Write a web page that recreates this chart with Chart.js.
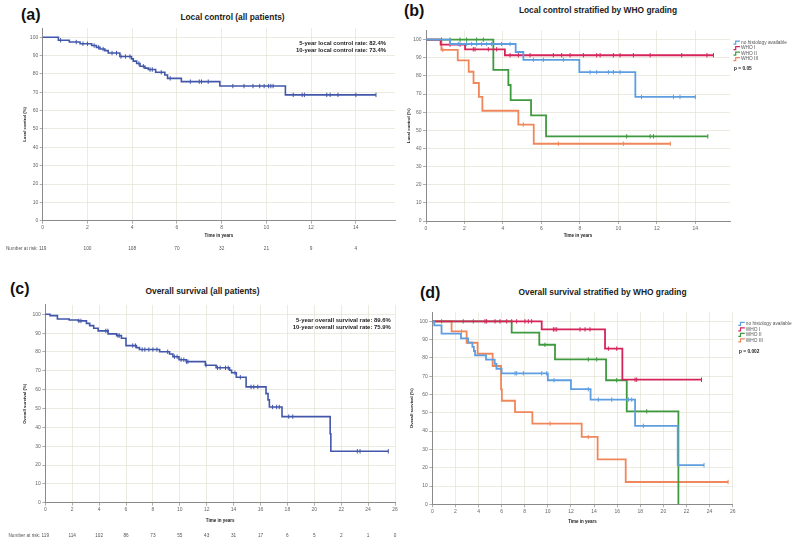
<!DOCTYPE html>
<html><head><meta charset="utf-8">
<script src="https://cdn.jsdelivr.net/npm/chart.js@4.4.1/dist/chart.umd.min.js"></script>
<style>
body{margin:0;background:#fff;width:798px;height:544px;position:relative;overflow:hidden;font-family:"Liberation Sans",Arial,sans-serif;}
canvas{position:absolute;}
.lbl{position:absolute;font-weight:bold;font-size:16px;color:#111;line-height:1;white-space:nowrap;}
.ttl{position:absolute;font-weight:bold;font-size:8.4px;color:#222;transform:translate(-50%,-50%);white-space:nowrap;line-height:1;}
</style></head><body>
<div class="lbl" style="left:21px;top:7px">(a)</div>
<div class="lbl" style="left:404px;top:3px">(b)</div>
<div class="lbl" style="left:10px;top:281px">(c)</div>
<div class="lbl" style="left:420px;top:285px">(d)</div>
<div class="ttl" style="left:232.5px;top:16.7px">Local control (all patients)</div>
<div class="ttl" style="left:598px;top:10px">Local control stratified by WHO grading</div>
<div class="ttl" style="left:202.5px;top:291.3px">Overall survival (all patients)</div>
<div class="ttl" style="left:602.5px;top:292px">Overall survival stratified by WHO grading</div>
<canvas id="ca" width="400" height="272" style="left:0;top:0"></canvas>
<canvas id="cb" width="398" height="272" style="left:400px;top:0"></canvas>
<canvas id="cc" width="400" height="272" style="left:0;top:272px"></canvas>
<canvas id="cd" width="398" height="272" style="left:400px;top:272px"></canvas>
<script>
const FONT = '"Liberation Sans", Arial, sans-serif';

// ---------- Panel (a): local control, all patients ----------
const aTimes = [0, 0.7, 1.19, 1.67, 2.19, 2.4, 2.56, 2.78, 2.93, 3.45, 3.97, 4.05, 4.2, 4.35, 4.57, 4.72, 5.05, 5.46, 5.58, 6.2, 7.92, 10.85, 14.9];
const aSurv  = [100, 98.4, 97.4, 96.5, 95.5, 94.5, 93.6, 92.7, 91.4, 89.5, 88.2, 87.0, 85.7, 84.2, 83.2, 82.4, 80.9, 79.4, 77.6, 75.8, 73.4, 68.6, 68.6];
const aCensor = [0.8, 1.5, 1.8, 2.0, 2.3, 2.5, 2.7, 3.1, 3.3, 3.5, 3.7, 3.9, 4.3, 4.5, 4.8, 4.9, 5.3, 5.7, 6.6, 7.0, 7.1, 7.4, 8.5, 9.0, 9.4, 9.7, 9.9, 10.1, 10.2, 10.3, 11.2, 11.6, 11.7, 12.7, 12.85, 13.2, 14.0, 14.9];
const aRiskTicks = [0, 2, 4, 6, 8, 10, 12, 14];
const aRisk = ['119', '100', '108', '70', '32', '21', '9', '4'];
const aAnnot = ['5-year local control rate: 82.4%', '10-year local control rate: 73.4%'];

// ---------- Panel (b): local control by WHO grade ----------
const groupNames = ['no histology available', 'WHO I', 'WHO II', 'WHO III'];
const groupColors = ['#5E9EE0', '#D4245A', '#3F9A3F', '#F0875A'];
const bNoHistT = [0, 1.25, 4.66, 5.06, 7.97, 10.88, 14.0];
const bNoHistS = [100, 97.6, 93.2, 88.9, 82.1, 68.4, 68.4];
const bNoHistC = [1.68, 2.11, 2.37, 2.63, 2.89, 3.15, 3.41, 3.93, 4.37, 5.58, 6.1, 7.14, 8.53, 8.87, 9.48, 9.74, 10.09, 11.2, 12.86, 13.2, 14.0];
const bWho1T = [0, 0.76, 2.03, 4.1, 14.94];
const bWho1S = [100, 97.3, 94.7, 91.4, 91.4];
const bWho1C = [1.25, 1.77, 2.46, 2.55, 3.24, 3.67, 4.37, 4.8, 5.06, 5.41, 6.62, 7.05, 7.49, 8.18, 8.87, 9.05, 9.74, 10.09, 10.78, 11.65, 13.29, 14.6, 14.94];
const bWho2T = [0, 3.5, 4.28, 4.4, 5.46, 6.24, 14.65];
const bWho2S = [100, 83.3, 75.0, 66.7, 58.3, 46.7, 46.7];
const bWho2C = [0.81, 1.25, 1.77, 2.11, 2.63, 2.98, 10.43, 11.65, 11.82, 14.65];
const bWho3T = [0, 0.8, 1.65, 2.22, 2.47, 2.75, 2.93, 4.8, 5.6, 12.7];
const bWho3S = [100, 94.4, 88.6, 82.3, 76.1, 68.5, 60.8, 53.2, 42.6, 42.6];
const bWho3C = [0.87, 5.06, 6.88, 10.26, 12.7];
const bP = 'p = 0.05';

// ---------- Panel (c): overall survival, all patients ----------
const cTimes = [0, 0.35, 0.9, 1.78, 2.45, 3.06, 3.3, 3.6, 3.93, 4.67, 5.3, 5.66, 6.0, 6.77, 7.0, 8.5, 9.24, 9.49, 9.94, 10.48, 11.9, 12.7, 13.7, 13.85, 14.2, 14.93, 16.41, 16.56, 16.66, 17.6, 21.18, 21.23, 25.5];
const cSurv  = [100, 99.3, 97.5, 97.0, 96.5, 95.2, 94.0, 92.6, 91.2, 89.6, 88.7, 87.3, 83.4, 82.3, 81.3, 80.1, 78.9, 77.5, 75.9, 74.9, 73.0, 71.6, 70.3, 69.0, 66.6, 61.5, 57.9, 54.6, 50.8, 45.7, 36.6, 27.3, 27.3];
const cCensor = [2.5, 2.65, 4.5, 4.65, 5.4, 5.5, 6.5, 6.7, 7.2, 7.4, 7.7, 8.0, 8.3, 9.1, 9.6, 9.8, 10.1, 10.3, 10.5, 10.6, 11.95, 12.8, 13.0, 13.4, 13.6, 14.1, 14.5, 15.3, 15.5, 15.8, 16.9, 17.2, 17.4, 18.1, 18.4, 23.2, 23.4, 25.5];
const cRiskTicks = [0, 2, 4, 6, 8, 10, 12, 14, 16, 18, 20, 22, 24, 26];
const cRisk = ['119', '114', '102', '86', '73', '55', '43', '31', '17', '6', '5', '2', '1', '0'];
const cAnnot = ['5-year overall survival rate: 89.6%', '10-year overall survival rate: 75.9%'];

// ---------- Panel (d): overall survival by WHO grade ----------
const dNoHistT = [0, 0.17, 0.8, 2.48, 3.1, 3.47, 3.6, 3.7, 4.65, 5.4, 5.55, 6.0, 10.0, 12.0, 13.7, 17.55, 21.24, 23.52];
const dNoHistS = [100, 97.8, 93.3, 90.7, 88.4, 86.1, 83.8, 81.4, 79.1, 76.8, 74.1, 71.6, 67.8, 62.9, 57.2, 42.9, 21.4, 21.4];
const dNoHistC = [7.16, 7.3, 7.88, 9.47, 9.9, 10.53, 13.5, 14.37, 15.53, 16.97, 17.26, 18.27, 23.52];
const dWho1T = [0, 9.47, 14.95, 16.45, 23.3];
const dWho1S = [100, 95.6, 85.1, 68.1, 68.1];
const dWho1C = [4.56, 4.7, 5.43, 5.86, 6.44, 6.87, 7.3, 8.02, 8.31, 8.6, 10.48, 10.62, 10.77, 12.78, 13.22, 13.65, 15.24, 15.96, 17.55, 17.69, 23.3];
const dWho2T = [0, 6.87, 9.26, 10.62, 15.04, 16.83, 21.3];
const dWho2S = [100, 93.8, 87.2, 79.2, 67.8, 50.8, 0];
const dWho2C = [0.81, 2.68, 3.55, 9.75, 13.5, 14.23, 15.96, 18.56];
const dWho3T = [0, 1.67, 2.97, 3.92, 5.22, 5.95, 6.02, 7.16, 8.66, 12.93, 14.31, 16.74, 25.6];
const dWho3S = [100, 94.5, 88.3, 82.3, 75.6, 62.8, 56.6, 50.4, 44.1, 36.8, 24.6, 12.2, 12.2];
const dWho3C = [2.54, 10.19, 13.5, 25.6];
const dP = 'p = 0.002';

const mainBlue = '#4257AA';

function stepData(T, S) { return T.map((t, i) => ({x: t, y: S[i]})); }
function survAt(T, S, t) { let v = S[0]; for (let i = 0; i < T.length; i++) { if (T[i] <= t + 1e-9) v = S[i]; } return v; }
function censorData(T, S, C) { return C.map(t => ({x: t, y: survAt(T, S, t)})); }

function series(T, S, C, color, label, lw) {
  return [
    {label: label, data: stepData(T, S), stepped: true, borderColor: color, borderWidth: lw, pointRadius: 0, fill: false},
    {label: label + ' censored', data: censorData(T, S, C), showLine: false, borderColor: color, pointStyle: 'line', pointRotation: 90, pointRadius: 2.2, pointBorderWidth: 1, pointBorderColor: color}
  ];
}

function panelPlugin(cfg) {
  return {
    id: 'panelText',
    afterDraw(chart) {
      const ctx = chart.ctx;
      ctx.save();
      if (cfg.annot) {
        ctx.font = 'bold 5.9px ' + FONT; ctx.fillStyle = '#222';
        ctx.textAlign = 'right'; ctx.textBaseline = 'middle';
        cfg.annot.lines.forEach((t, i) => ctx.fillText(t, cfg.annot.x, cfg.annot.y + i * cfg.annot.dy));
      }
      if (cfg.risk) {
        const xs = chart.scales.x;
        ctx.font = '4.7px ' + FONT; ctx.fillStyle = '#555';
        ctx.textBaseline = 'middle'; ctx.textAlign = 'center';
        cfg.risk.ticks.forEach((t, i) => ctx.fillText(cfg.risk.values[i], xs.getPixelForValue(t), cfg.risk.y));
        const w0 = ctx.measureText(cfg.risk.values[0]).width;
        ctx.textAlign = 'right';
        ctx.fillText('Number at risk:', xs.getPixelForValue(cfg.risk.ticks[0]) - w0 / 2 - 1.3, cfg.risk.y);
      }
      if (cfg.legend) {
        const L = cfg.legend;
        L.names.forEach((n, i) => {
          const y = L.y + i * L.dy;
          ctx.strokeStyle = L.colors[i]; ctx.lineWidth = 1.2;
          ctx.beginPath();
          ctx.moveTo(L.x, y + 1.6); ctx.lineTo(L.x + 2.2, y + 1.6); ctx.lineTo(L.x + 2.2, y - 1.4); ctx.lineTo(L.x + 6.5, y - 1.4);
          ctx.stroke();
          ctx.font = '4.8px ' + FONT; ctx.fillStyle = '#555';
          ctx.textAlign = 'left'; ctx.textBaseline = 'middle';
          ctx.fillText(n, L.x + 7.5, y);
        });
        ctx.font = 'bold 4.8px ' + FONT; ctx.fillStyle = '#222';
        ctx.fillText(L.p, L.px, L.py);
      }
      ctx.restore();
    }
  };
}

function makePanel(id, p) {
  const gridColor = 'rgba(226,226,212,0.85)';
  new Chart(document.getElementById(id), {
    type: 'line',
    data: {datasets: p.datasets},
    options: {
      responsive: false, animation: false, events: [],
      layout: {padding: p.pad},
      plugins: {legend: {display: false}, tooltip: {enabled: false}, title: {display: false}},
      scales: {
        x: {
          type: 'linear', min: 0, max: p.xmax,
          ticks: {stepSize: 2, includeBounds: false, autoSkip: false, maxRotation: 0, padding: 1.2, color: '#666', font: {size: 5, family: FONT}},
          grid: {color: gridColor, lineWidth: 0.8, tickLength: 3, tickColor: '#999', tickWidth: 0.8},
          border: {color: '#8a8a8a', width: 1},
          title: {display: true, text: 'Time in years', color: '#222', padding: 0, font: {size: 4.5, weight: 'bold', family: FONT}},
          afterFit(s) { s.height = p.xH; s.paddingLeft = 0; s.paddingRight = 0; }
        },
        y: {
          type: 'linear', min: 0, max: 105,
          ticks: {stepSize: 10, includeBounds: false, padding: 1.5, color: '#666', font: {size: 5, family: FONT}},
          grid: {color: gridColor, lineWidth: 0.8, tickLength: 3, tickColor: '#999', tickWidth: 0.8},
          border: {color: '#8a8a8a', width: 1},
          title: {display: true, text: p.ytitle, color: '#222', padding: 0, font: {size: 4.3, weight: 'bold', family: FONT}},
          afterFit(s) { s.width = p.yW; s.paddingTop = 0; s.paddingBottom = 0; }
        }
      }
    },
    plugins: [panelPlugin(p.extra)]
  });
}

makePanel('ca', {
  datasets: series(aTimes, aSurv, aCensor, mainBlue, 'Local control', 1.6),
  pad: {left: 22.4, top: 28.1, right: 5, bottom: 34}, yW: 20.3, xH: 17.3, xmax: 15.75,
  ytitle: 'Local control (%)',
  extra: {annot: {lines: aAnnot, x: 386, y: 43, dy: 7}, risk: {ticks: aRiskTicks, values: aRisk, y: 248.3}}
});

makePanel('cb', {
  datasets: [].concat(
    series(bNoHistT, bNoHistS, bNoHistC, groupColors[0], groupNames[0], 1.8),
    series(bWho1T, bWho1S, bWho1C, groupColors[1], groupNames[1], 1.8),
    series(bWho2T, bWho2S, bWho2C, groupColors[2], groupNames[2], 1.8),
    series(bWho3T, bWho3S, bWho3C, groupColors[3], groupNames[3], 1.8)),
  pad: {left: 6.4, top: 30.6, right: 68, bottom: 34}, yW: 19.6, xH: 17, xmax: 15.8,
  ytitle: 'Local control (%)',
  extra: {legend: {names: groupNames, colors: groupColors, x: 333.5, y: 42.5, dy: 5.5, p: bP, px: 334, py: 69}}
});

makePanel('cc', {
  datasets: series(cTimes, cSurv, cCensor, mainBlue, 'Overall survival', 1.6),
  pad: {left: 22.4, top: 32.9, right: 4, bottom: 21}, yW: 22.9, xH: 20.3, xmax: 26,
  ytitle: 'Overall survival (%)',
  extra: {annot: {lines: cAnnot, x: 390.7, y: 48.3, dy: 6.8}, risk: {ticks: cRiskTicks, values: cRisk, y: 263.3}}
});

makePanel('cd', {
  datasets: [].concat(
    series(dNoHistT, dNoHistS, dNoHistC, groupColors[0], groupNames[0], 1.8),
    series(dWho1T, dWho1S, dWho1C, groupColors[1], groupNames[1], 1.8),
    series(dWho2T, dWho2S, dWho2C, groupColors[2], groupNames[2], 1.8),
    series(dWho3T, dWho3S, dWho3C, groupColors[3], groupNames[3], 1.8)),
  pad: {left: 9.1, top: 40.2, right: 65.3, bottom: 19.3}, yW: 23.2, xH: 20.4, xmax: 26,
  ytitle: 'Overall survival (%)',
  extra: {legend: {names: groupNames, colors: groupColors, x: 338.3, y: 51.7, dy: 5.5, p: dP, px: 339, py: 80}}
});
</script>
</body></html>
